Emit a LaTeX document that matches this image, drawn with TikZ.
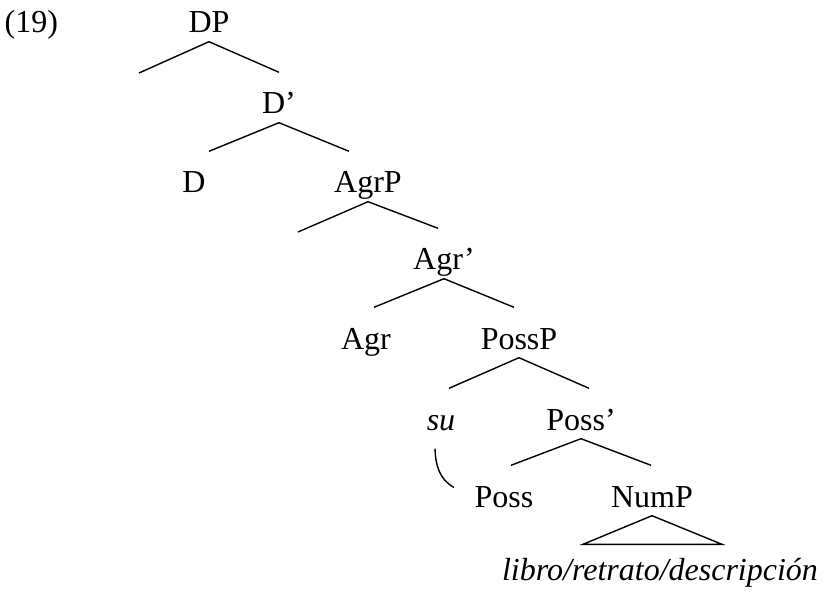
\documentclass[tikz,border=0pt]{standalone}
\usepackage{fontspec}
\setmainfont{Liberation Serif}
\begin{document}
\begin{tikzpicture}[x=1pt, y=-1pt, line width=1.4pt,
    font=\fontsize{32}{38}\selectfont,
    every node/.style={inner sep=0pt, anchor=base, text height=41pt, text depth=8pt}]
      \useasboundingbox (0,0) rectangle (824,593);
      \node[anchor=base west] (ex) at (4,33) {(19)};
      \node (DP) at (209,33) {DP};
      \node (Dbar) at (279,114) {D'};
      \node (D) at (194,193) {D};
      \node (AgrP) at (368,193) {AgrP};
      \node (Agrbar) at (444,270) {Agr'};
      \node (Agr) at (366,349) {Agr};
      \node (PossP) at (519,349) {PossP};
      \node (su) at (441,430) {\itshape su};
      \node (Possbar) at (581,430) {Poss'};
      \node (Poss) at (504,507) {Poss};
      \node (NumP) at (652,507) {NumP};
      \node (libro) at (660,580) {\itshape libro/retrato/descripción};
      \coordinate (DPspec) at (139,73);
      \coordinate (AgrPspec) at (298,232);
      \draw (DP.south) -- (DPspec);
      \draw (DP.south) -- (Dbar.north);
      \draw (Dbar.south) -- ([xshift=15pt]D.north);
      \draw (Dbar.south) -- ([xshift=-19pt]AgrP.north);
      \draw (AgrP.south) -- (AgrPspec);
      \draw (AgrP.south) -- ([xshift=-6pt]Agrbar.north);
      \draw (Agrbar.south) -- ([xshift=8pt]Agr.north);
      \draw (Agrbar.south) -- ([xshift=-5pt]PossP.north);
      \draw (PossP.south) -- ([xshift=8pt]su.north);
      \draw (PossP.south) -- ([xshift=8pt]Possbar.north);
      \draw (Possbar.south) -- ([xshift=7pt]Poss.north);
      \draw (Possbar.south) -- ([xshift=-1pt]NumP.north);
      \draw (NumP.south) -- ([shift={(-77pt,-6pt)}]libro.north)
        -- ([shift={(62pt,-6pt)}]libro.north) -- cycle;
      \draw ([shift={(-6pt,-10pt)}]su.south) to[out=-88, in=150] ([shift={(-20pt,3pt)}]Poss.west);
\end{tikzpicture}
\end{document}
